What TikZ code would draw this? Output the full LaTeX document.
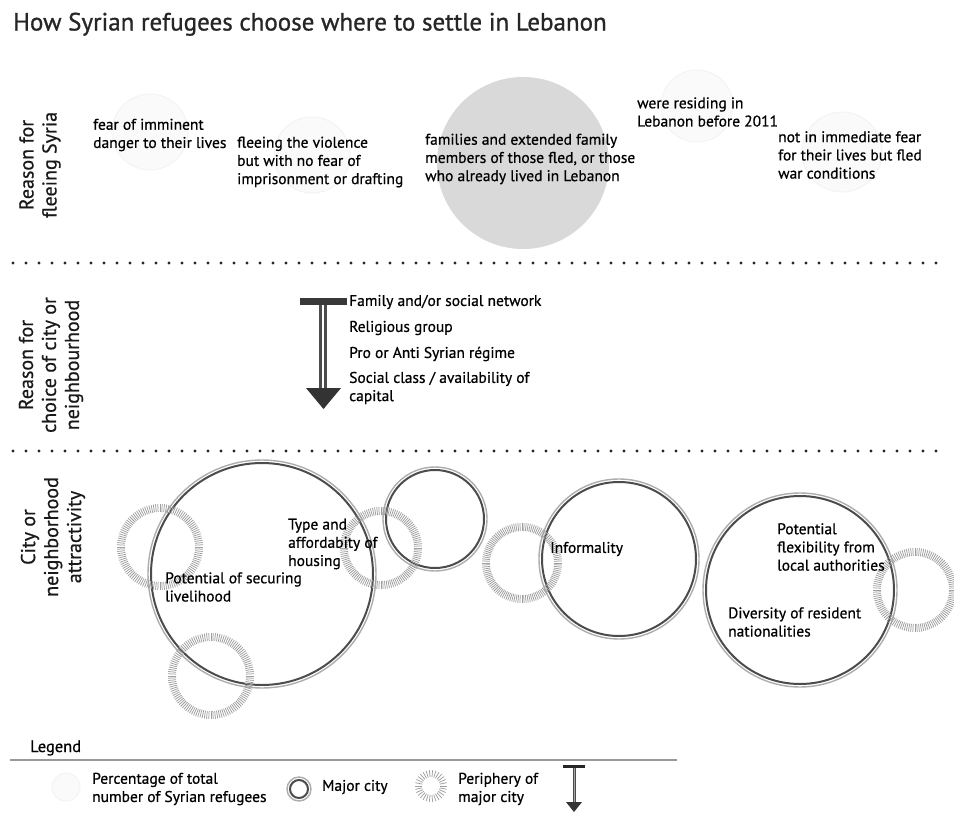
\documentclass[tikz,border=0pt]{standalone}
\usepackage{fontspec}
\setmainfont{PT Sans}[FakeBold=0.6]
\newfontfamily\titlefont{PT Sans}[FakeBold=0.9]
\newcommand\mkcity[3]{%
  \coordinate (#1) at #2;
  \draw[cityout] (#1) circle[radius=#3];
  \draw[cityin] (#1) circle[radius=#3-3];}
\newcommand\mkperiph[5]{%
  \coordinate (#1) at #2;
  \foreach \a in {0,#5,...,359} \draw[periph] (#1) ++(\a:#3) -- ++(\a:#4);}
\begin{document}
\begin{tikzpicture}[x=1pt,y=-1pt,
  txt/.style={anchor=west, align=left, inner sep=0pt, font=\fontsize{15.5}{18.2}\selectfont, text=black},
  vlabel/.style={rotate=90, align=center, inner sep=0pt, font=\fontsize{20}{23}\selectfont, text=black!90},
  dotrule/.style={line width=3.2pt, line cap=round, dash pattern=on 0pt off 13pt, black!85},
  faint/.style={fill=black!2, draw=black!5, line width=0.8pt},
  bigshare/.style={fill=black!15},
  cityout/.style={draw=black!32, line width=1.4pt},
  cityin/.style={draw=black!70, line width=2pt},
  periph/.style={draw=black!38, line width=0.75pt},
  rule/.style={draw=black!40, line width=2pt},
  shaft/.style={draw=black!70, line width=3pt, double=white, double distance=2.4pt},
  headfill/.style={fill=black!80},
]
\useasboundingbox (0,0) rectangle (954,814);
\fill[white] (0,0) rectangle (954,814);

% title
\node[anchor=base west, inner sep=0pt, font=\titlefont\fontsize{25}{28}\selectfont, text=black!85] (title) at (13,30.5) {How Syrian refugees choose where to settle in Lebanon};

% section separators
\coordinate (d1s) at (13,263); \coordinate (d1e) at (940,263);
\coordinate (d2s) at (13,451); \coordinate (d2e) at (940,451);
\draw[dotrule] (d1s) -- (d1e);
\draw[dotrule] (d2s) -- (d2e);

% section labels
\node[vlabel] (lab1) at (40,165) {Reason for\\fleeing Syria};
\node[vlabel] (lab2) at (51,365) {Reason for\\choice of city or\\neighbourhood};
\node[vlabel] (lab3) at (53,537) {City or\\neighborhood\\attractivity};

% top section: shares
\filldraw[faint] (150,132) circle[radius=38];
\filldraw[faint] (312,155) circle[radius=38];
\fill[bigshare] (523,163) circle[radius=86];
\filldraw[faint] (697,106) circle[radius=36];
\filldraw[faint] (842,152) circle[radius=40];

\node[txt] (r1) at (93,135) {fear of imminent\\danger to their lives};
\node[txt] (r2) at (237,162) {fleeing the violence\\but with no fear of\\imprisonment or drafting};
\node[txt] (r3) at (425,159) {families and extended family\\members of those fled, or those\\who already lived in Lebanon};
\node[txt] (r4) at (637,112) {were residing in\\Lebanon before 2011};
\node[txt] (r5) at (778,155) {not in immediate fear\\for their lives but fled\\war conditions};

% middle section: ranking arrow
\coordinate (barL) at (300,301.5); \coordinate (barR) at (347,301.5);
\coordinate (shTop) at (323,305); \coordinate (shBot) at (323,389);
\coordinate (tipL) at (306,388); \coordinate (tipR) at (341,388); \coordinate (tip) at (323.5,409);
\draw[black!78, line width=7pt] (barL) -- (barR);
\draw[shaft] (shTop) -- (shBot);
\fill[headfill] (tipL) -- (tipR) -- (tip) -- cycle;

\node[txt] (c1) at (349,302) {Family and/or social network};
\node[txt] (c2) at (349,328) {Religious group};
\node[txt] (c3) at (349,354) {Pro or Anti Syrian régime};
\node[txt] (c4) at (349,388) {Social class / availability of\\capital};

% bottom section: cities and peripheries
\mkcity{m1}{(262,574)}{114}
\mkcity{m2}{(435,519)}{52}
\mkcity{m3}{(619,559)}{80}
\mkcity{m4}{(800,590)}{97}
\mkperiph{p1}{(160,547)}{35}{8}{3}
\mkperiph{p2}{(381,548)}{33}{8}{3}
\mkperiph{p3}{(211,676)}{35}{8}{3}
\mkperiph{p4}{(522,563)}{32}{8}{3}
\mkperiph{p5}{(915,590)}{34}{8}{3}

\node[txt] (a1) at (288,544) {Type and\\affordabity of\\housing};
\node[txt] (a2) at (165,587) {Potential of securing\\livelihood};
\node[txt] (a3) at (550,549) {Informality};
\node[txt] (a4) at (777,547) {Potential\\flexibility from\\local authorities};
\node[txt] (a5) at (728,622) {Diversity of resident\\nationalities};

% legend
\node[txt, font=\fontsize{16.5}{18}\selectfont] (leg) at (30,748) {Legend};
\coordinate (ruleL) at (10,760); \coordinate (ruleR) at (677,760);
\draw[rule] (ruleL) -- (ruleR);
\filldraw[faint] (66,787) circle[radius=14];
\node[txt] (l1) at (92,789) {Percentage of total\\number of Syrian refugees};
\mkcity{lm}{(299,789)}{12}
\node[txt] (l2) at (322,787) {Major city};
\mkperiph{lp}{(431,786)}{9}{7}{12}
\node[txt] (l3) at (458,789) {Periphery of\\major city};
\coordinate (lbarL) at (563,766.5); \coordinate (lbarR) at (585,766.5);
\coordinate (lshT) at (574,768); \coordinate (lshB) at (574,803);
\coordinate (ltL) at (566,802); \coordinate (ltR) at (582,802); \coordinate (lt) at (574,812);
\draw[black!85, line width=3pt] (lbarL) -- (lbarR);
\draw[black!70, line width=1pt, double=black!35, double distance=1pt] (lshT) -- (lshB);
\fill[headfill] (ltL) -- (ltR) -- (lt) -- cycle;
\end{tikzpicture}
\end{document}
